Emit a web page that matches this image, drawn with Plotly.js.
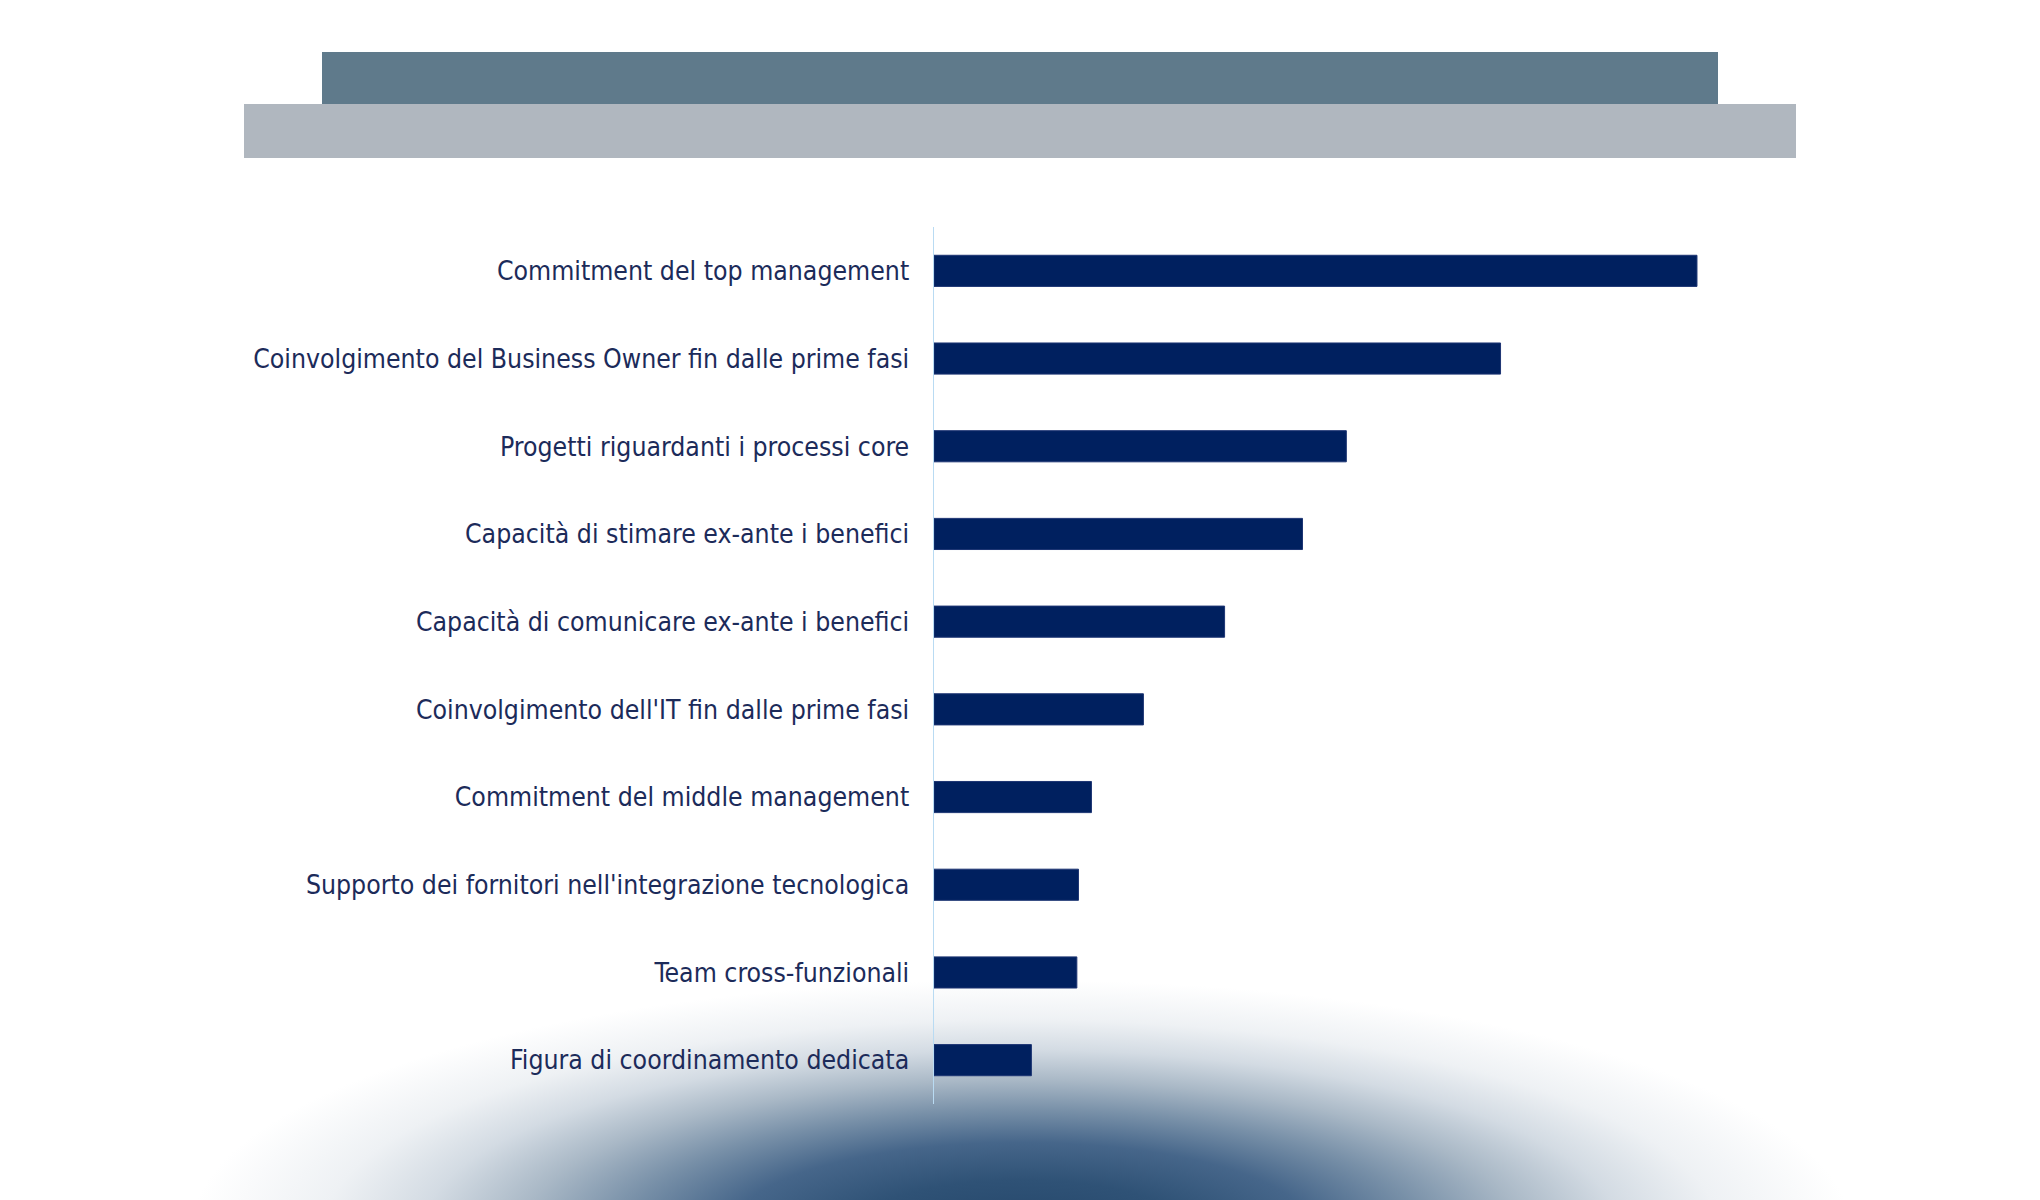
<!DOCTYPE html>
<html>
<head>
<meta charset="utf-8">
<script src="https://cdn.plot.ly/plotly-3.0.1.min.js"></script>
<style>
  html, body { margin: 0; padding: 0; background: #ffffff; }
  #chart_container {
    width: 2040px;
    height: 1200px;
    background: radial-gradient(ellipse 830px 250px at 1021px 1230px,
      #24466a 0%, #2f5276 20%, #46668a 35%, #7890a8 48%, #a9b8c6 60%,
      #d3dbe3 72%, #eef1f4 84%, rgba(255,255,255,0) 100%);
  }
</style>
</head>
<body>
<div id="chart_container"></div>
<script>
// categories, top to bottom
var categories = [
	'Commitment del top management',
	'Coinvolgimento del Business Owner fin dalle prime fasi',
	'Progetti riguardanti i processi core',
	'Capacità di stimare ex-ante i benefici',
	'Capacità di comunicare ex-ante i benefici',
	"Coinvolgimento dell'IT fin dalle prime fasi",
	'Commitment del middle management',
	"Supporto dei fornitori nell'integrazione tecnologica",
	'Team cross-funzionali',
	'Figura di coordinamento dedicata'
];

// values (%)
var values = [47.0, 34.9, 25.4, 22.7, 17.9, 12.9, 9.7, 8.9, 8.8, 6.0];

var bars = {
	type: 'bar',
	orientation: 'h',
	x: values,
	y: categories,
	marker: {
		color: '#00205f',
		line: { color: '#1d3573', width: 1 }
	},
	hoverinfo: 'x+y'
};

var layout = {
	width: 2040,
	height: 1200,
	margin: { l: 934, r: 132, t: 227, b: 96 },
	paper_bgcolor: 'rgba(0,0,0,0)',
	plot_bgcolor: 'rgba(0,0,0,0)',
	showlegend: false,
	bargap: 0.645,
	font: { family: 'DejaVu Sans Condensed, DejaVu Sans, sans-serif', color: '#1c2b5a' },
	xaxis: {
		range: [0, 60],
		showgrid: false,
		zeroline: false,
		showline: false,
		showticklabels: false,
		ticks: ''
	},
	yaxis: {
		type: 'category',
		range: [9.5, -0.5],
		showgrid: false,
		zeroline: false,
		showline: true,
		linecolor: '#b9dbf3',
		linewidth: 1.5,
		ticks: '',
		ticklabelstandoff: 18,
		tickfont: { size: 26.4, color: '#1c2b5a' }
	},
	// decorative header banners
	shapes: [
		{
			type: 'rect', xref: 'paper', yref: 'paper', layer: 'below',
			x0: (244 - 934) / 974, x1: (1796 - 934) / 974,
			y0: (1104 - 158) / 877, y1: (1104 - 104) / 877,
			fillcolor: '#b0b7bf', line: { width: 0 }
		},
		{
			type: 'rect', xref: 'paper', yref: 'paper', layer: 'below',
			x0: (322 - 934) / 974, x1: (1718 - 934) / 974,
			y0: (1104 - 104) / 877, y1: (1104 - 52) / 877,
			fillcolor: '#5f7a8b', line: { width: 0 }
		}
	]
};

Plotly.newPlot('chart_container', [bars], layout, { displayModeBar: false, staticPlot: true });
</script>
</body>
</html>
